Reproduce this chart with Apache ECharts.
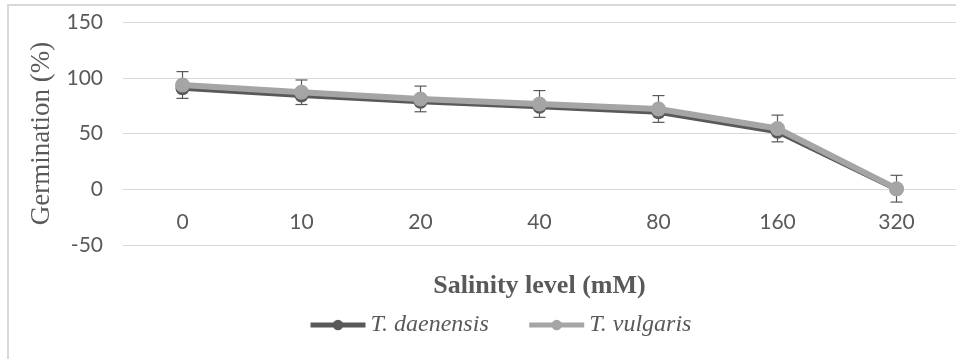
<!DOCTYPE html>
<html>
<head>
<meta charset="utf-8">
<script src="https://cdn.jsdelivr.net/npm/echarts@6/dist/echarts.min.js"></script>
<style>
html, body { margin: 0; padding: 0; background: #fff; }
#main { width: 956px; height: 359px; }
</style>
</head>
<body>
<div id="main"></div>
<script>
var salinity = ['0', '10', '20', '40', '80', '160', '320'];
var daenensis = [90.5, 84, 78.5, 74, 69, 51.5, 0];
var vulgaris = [93.5, 87, 81, 76.5, 72, 54.5, 0.5];
var vulgarisErr = [12, 11, 11.5, 12, 12, 12, 12];
var yTicks = [-50, 0, 50, 100, 150];

var errData = [];
for (var i = 0; i < salinity.length; i++) {
	errData.push([i, vulgaris[i] - vulgarisErr[i], vulgaris[i] + vulgarisErr[i]]);
}

var chart = echarts.init(document.getElementById('main'));
var option = {
	backgroundColor: '#fff',
	animation: false,
	grid: {
		left: 123,
		right: 0,
		top: 22,
		bottom: 114
	},
	graphic: [{
		type: 'rect',
		shape: { x: 8, y: 5, width: 1000, height: 400 },
		style: { fill: 'none', stroke: '#d9d9d9', lineWidth: 2 },
		z: -1
	}],
	legend: {
		left: 303,
		top: 308,
		itemWidth: 55,
		itemHeight: 13,
		itemGap: 38,
		lineStyle: { width: 5 },
		textStyle: {
			fontFamily: 'Liberation Serif',
			fontStyle: 'italic',
			fontSize: 24,
			color: '#595959'
		},
		data: ['T. daenensis', 'T. vulgaris']
	},
	xAxis: {
		type: 'category',
		data: salinity,
		boundaryGap: true,
		name: 'Salinity level (mM)',
		nameLocation: 'middle',
		nameGap: 28,
		nameTextStyle: {
			fontFamily: 'Liberation Serif',
			fontWeight: 'bold',
			fontSize: 26,
			color: '#595959'
		},
		axisLine: { show: true, lineStyle: { color: '#d9d9d9', width: 1 } },
		axisTick: { show: false },
		axisLabel: {
			margin: -33,
			fontFamily: 'Lato',
			fontSize: 21,
			color: '#595959'
		}
	},
	yAxis: {
		type: 'value',
		min: yTicks[0],
		max: yTicks[yTicks.length - 1],
		interval: 50,
		name: 'Germination (%)',
		nameLocation: 'middle',
		nameGap: 64,
		nameTextStyle: {
			fontFamily: 'Liberation Serif',
			fontSize: 27,
			color: '#595959'
		},
		axisLine: { show: false },
		axisTick: { show: false },
		splitLine: { lineStyle: { color: '#d9d9d9', width: 1 } },
		axisLabel: {
			margin: 20,
			fontFamily: 'Lato',
			fontSize: 21,
			color: '#595959'
		}
	},
	series: [{
		name: 'error',
		type: 'custom',
		z: 3,
		data: errData,
		renderItem: function(params, api) {
			var lo = api.coord([api.value(0), api.value(1)]);
			var hi = api.coord([api.value(0), api.value(2)]);
			var w = 6;
			var st = { stroke: '#595959', lineWidth: 1.2 };
			return {
				type: 'group',
				children: [
					{ type: 'line', shape: { x1: hi[0], y1: hi[1], x2: lo[0], y2: lo[1] }, style: st },
					{ type: 'line', shape: { x1: hi[0] - w, y1: hi[1], x2: hi[0] + w, y2: hi[1] }, style: st },
					{ type: 'line', shape: { x1: lo[0] - w, y1: lo[1], x2: lo[0] + w, y2: lo[1] }, style: st }
				]
			};
		}
	}, {
		name: 'T. daenensis',
		type: 'line',
		z: 4,
		data: daenensis,
		symbol: 'circle',
		symbolSize: 14,
		lineStyle: { color: '#595959', width: 5 },
		itemStyle: { color: '#595959' }
	}, {
		name: 'T. vulgaris',
		type: 'line',
		z: 5,
		data: vulgaris,
		symbol: 'circle',
		symbolSize: 15,
		lineStyle: { color: '#a5a5a5', width: 6 },
		itemStyle: { color: '#a5a5a5' }
	}]
};
chart.setOption(option);
</script>
</body>
</html>
